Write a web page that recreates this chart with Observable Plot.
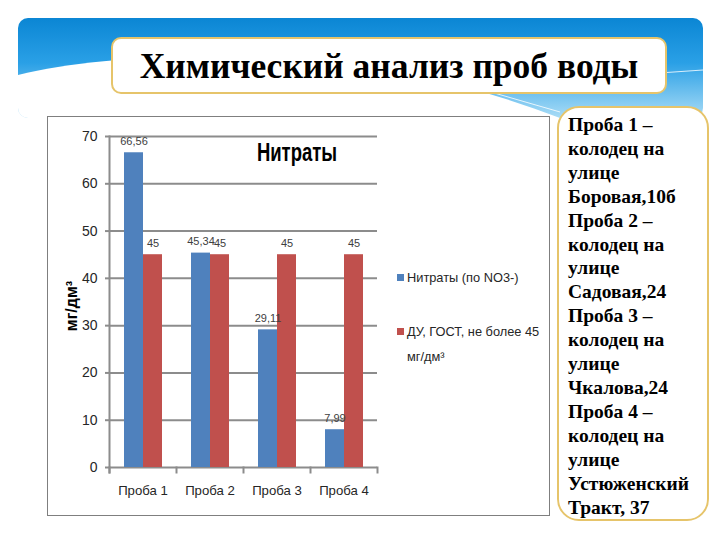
<!DOCTYPE html>
<html>
<head>
<meta charset="utf-8">
<script src="https://cdn.jsdelivr.net/npm/d3@7"></script>
<script src="https://cdn.jsdelivr.net/npm/@observablehq/plot@0.6"></script>
<style>
  html, body { margin: 0; padding: 0; background: #fff; }
  #page { position: relative; width: 720px; height: 540px; overflow: hidden; background: #fff; }
  #bg { position: absolute; left: 0; top: 0; }
  #titlebox { position: absolute; left: 111px; top: 37px; width: 552px; height: 53px; background: #fff;
    border: 2px solid #e6c46a; border-radius: 10px; display: flex; align-items: center; justify-content: center;
    font-family: "Liberation Serif", "Times New Roman", serif; font-weight: bold; font-size: 35.5px; color: #000; }
  #chartbox { position: absolute; left: 47px; top: 116px; width: 501px; height: 398px; border: 1.5px solid #7f7f7f; background: #fff; }
  #plot { position: absolute; left: 48px; top: 117px; }
  #charttitle { position: absolute; left: 230px; top: 138px; width: 134px; text-align: center;
    font-family: "Liberation Sans", sans-serif; font-weight: bold; font-size: 18.5px; color: #000;
    transform: scaleY(1.35); transform-origin: 50% 0; }
  .leg { position: absolute; left: 397px; font-family: "Liberation Sans", sans-serif; font-size: 12.8px; color: #262626; line-height: 25px; }
  .sw { position: absolute; left: 0; width: 7px; height: 7px; top: 9px; }
  .leg span.t { display: block; margin-left: 10px; }
  #notes { position: absolute; left: 557px; top: 106px; width: 152px; height: 415px; background: #fff;
    border: 2px solid #e6c46a; border-radius: 22px; box-sizing: border-box; padding: 5px 0 0 9px;
    font-family: "Liberation Serif", "Times New Roman", serif; font-weight: bold; font-size: 19.5px; line-height: 23.9px; color: #000; white-space: nowrap; }
  g[aria-label="ylabel"] text { letter-spacing: 4px; }
</style>
</head>
<body>
<div id="page">
  <svg id="bg" width="720" height="540">
    <defs>
      <linearGradient id="hg" x1="0" y1="0" x2="0" y2="1">
        <stop offset="0" stop-color="#0b86d4"/>
        <stop offset="0.45" stop-color="#2aa0e6"/>
        <stop offset="1" stop-color="#a9dcf6"/>
      </linearGradient>
      <clipPath id="hc"><rect x="18" y="18" width="685" height="100" rx="10"/></clipPath>
    </defs>
    <g clip-path="url(#hc)">
      <rect x="18" y="18" width="685" height="100" fill="url(#hg)"/>
      <path d="M18,75 C70,62 140,55 260,56 C360,58 460,80 560,118 L18,118 Z" fill="#fff"/>
      <path d="M330,112 L470,86 L703,70" stroke="#fff" stroke-width="1" fill="none" opacity="0.8"/>
      <path d="M470,86 L560,112" stroke="#fff" stroke-width="1" fill="none" opacity="0.8"/>
    </g>
  </svg>
  <div id="titlebox">Химический анализ проб воды</div>
  <div id="chartbox"></div>
  <div id="plot"></div>
  <div id="charttitle">Нитраты</div>
  <div class="leg" id="leg1" style="top:265px"><div class="sw" style="background:#4f81bd"></div><span class="t">Нитраты (по NO3-)</span></div>
  <div class="leg" id="leg2" style="top:319px"><div class="sw" style="background:#c0504d"></div><span class="t">ДУ, ГОСТ, не более 45<br>мг/дм³</span></div>
  <div id="notes">Проба 1 –<br>колодец на<br>улице<br>Боровая,10б<br>Проба 2 –<br>колодец на<br>улице<br>Садовая,24<br>Проба 3 –<br>колодец на<br>улице<br>Чкалова,24<br>Проба 4 –<br>колодец на<br>улице<br>Устюженский<br>Тракт, 37</div>
</div>
<script>
const samples = ["Проба 1", "Проба 2", "Проба 3", "Проба 4"];
const nitrates = [66.56, 45.34, 29.11, 7.99];
const limits = [45, 45, 45, 45];
const seriesNames = ["Нитраты (по NO3-)", "ДУ, ГОСТ, не более 45 мг/дм³"];
const seriesColors = ["#4f81bd", "#c0504d"];
const yTicks = [0, 10, 20, 30, 40, 50, 60, 70];

const rows = [];
samples.forEach((s, i) => {
  rows.push({sample: s, series: seriesNames[0], value: nitrates[i]});
  rows.push({sample: s, series: seriesNames[1], value: limits[i]});
});
const fmt = v => String(v).replace(".", ",");

const W = 500, H = 398, mT = 19, mB = 48, mL = 61, mR = 171;
const innerH = H - mT - mB;
const font = '"Liberation Sans", sans-serif';
const grid = "#8c8c8c";

const chart = Plot.plot({
  width: W, height: H,
  marginTop: mT, marginBottom: mB, marginLeft: mL, marginRight: mR,
  style: {fontFamily: font, background: "transparent", color: "#262626"},
  fx: {domain: samples, padding: 0, label: null},
  x: {domain: seriesNames, paddingInner: 0, paddingOuter: 0.72, axis: null},
  y: {domain: [0, 70], axis: null},
  color: {domain: seriesNames, range: seriesColors},
  marks: [
    Plot.ruleY(yTicks, {y: d => d, stroke: grid, strokeWidth: 2}),
    Plot.axisY({ticks: yTicks, tickSize: 4, tickPadding: 8, stroke: grid, strokeWidth: 2, fontSize: 14, label: null, fill: "#262626"}),
    Plot.axisFx({anchor: "bottom", tickSize: 0, tickPadding: 18, fontSize: 13.2, label: null, fill: "#262626"}),
    Plot.frame({anchor: "left", facetAnchor: "left", insetBottom: -5, stroke: grid, strokeWidth: 2}),
    Plot.frame({anchor: "left", insetTop: innerH, insetBottom: -5, stroke: grid, strokeWidth: 2}),
    Plot.frame({anchor: "right", facetAnchor: "right", insetTop: innerH, insetBottom: -5, stroke: grid, strokeWidth: 2}),
    Plot.barY(rows, {fx: "sample", x: "series", y: "value", fill: "series"}),
    Plot.text(rows, {fx: "sample", x: "series", y: "value", text: d => fmt(d.value), lineAnchor: "bottom", dy: -8, fontSize: 11, fill: "#404040"}),
    Plot.text(["мг/дм³"], {ariaLabel: "ylabel", frameAnchor: "left", textAnchor: "middle", facetAnchor: "left", rotate: -90, dx: -38, dy: 4, fontWeight: "bold", fontSize: 16, fill: "#000"})
  ]
});
document.getElementById("plot").appendChild(chart);
</script>
</body>
</html>
